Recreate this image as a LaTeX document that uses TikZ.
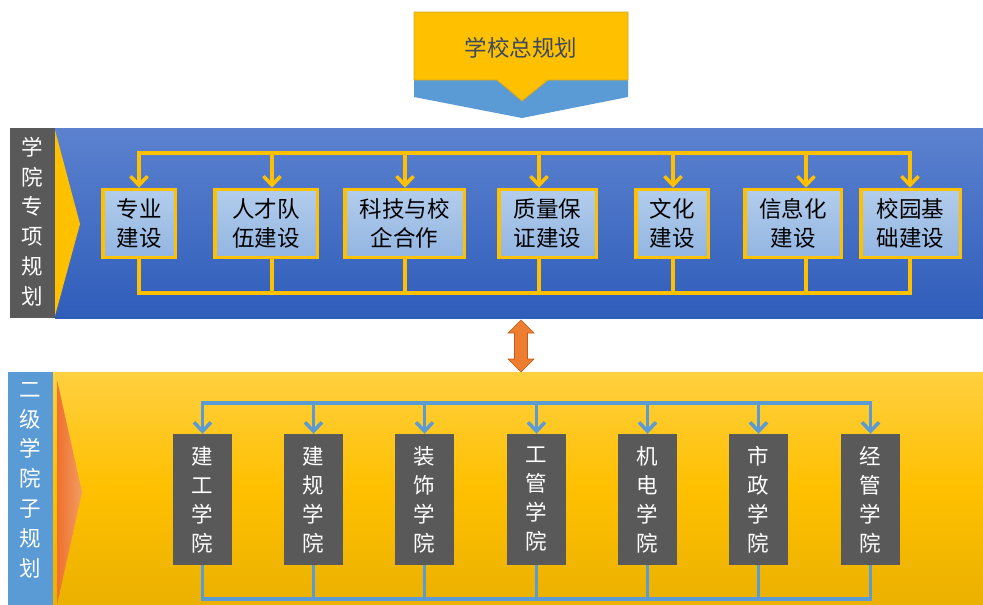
\documentclass[tikz,border=0pt]{standalone}
\usepackage{fontspec}
\setmainfont{Noto Sans CJK SC}
\usetikzlibrary{arrows.meta}
\definecolor{gold}{HTML}{FFC000}
\definecolor{goldedge}{HTML}{D4A520}
\definecolor{skyblue}{HTML}{5B9BD5}
\definecolor{bandtop}{HTML}{5C82CF}
\definecolor{bandbot}{HTML}{2F5DBA}
\definecolor{boxtop}{HTML}{B3CDEC}
\definecolor{boxbot}{HTML}{92B5E1}
\definecolor{darkgrey}{HTML}{595959}
\definecolor{titlegrey}{HTML}{3B4A5E}
\definecolor{orange}{HTML}{ED7D31}
\definecolor{orangeedge}{HTML}{C55A11}
\begin{document}
\begin{tikzpicture}[x=1pt,y=-1pt]
  \tikzstyle{plan}=[draw=gold,line width=3.5pt,top color=boxtop,bottom color=boxbot,inner sep=0pt,minimum height=68pt,align=center,font=\fontsize{22.5}{29}\selectfont]
  \tikzstyle{college}=[fill=darkgrey,minimum width=59pt,minimum height=131pt,inner sep=0pt,text=white,align=center,font=\fontsize{21.5}{29}\selectfont]
  \tikzstyle{label}=[text=white,align=center,font=\fontsize{21.5}{29.8}\selectfont]
  \tikzstyle{barb}=[-{Straight Barb[length=9pt,width=17pt]}]
  \useasboundingbox (0,0) rectangle (983,605);

  % school plan on top
  \fill[skyblue] (414,80) -- (497,80) -- (522,101) -- (548,80) -- (628,80) -- (628,97) -- (522,118) -- (414,97) -- cycle;
  \filldraw[fill=gold,draw=goldedge,line width=0.8pt] (414,12) -- (628,12) -- (628,80) -- (548,80) -- (522,101) -- (497,80) -- (414,80) -- cycle;
  \node[text=titlegrey,font=\fontsize{22.5}{26}\selectfont] (top) at (521,48) {学校总规划};

  % upper band
  \shade[top color=bandtop,bottom color=bandbot] (55,128) rectangle (983,318);
  \fill[darkgrey] (10,128) rectangle (55,318);
  \fill[gold] (55,130) -- (80,224) -- (55,316) -- cycle;
  \node[label] (L-up) at (32,221.5) {学\\院\\专\\项\\规\\划};

  \foreach \name/\x/\w/\ax/\text in {1/139/76/139/专业\\建设, 2/266/106/272/人才队\\伍建设, 3/404.5/123/405/科技与校\\企合作, 4/547.5/101/539/质量保\\证建设, 5/672/76/673/文化\\建设, 6/793/100/806/信息化\\建设, 7/910.5/103/910/校园基\\础建设}
  {
    \node[plan,minimum width=\w pt-3.5pt] (P-\name) at (\x,223.5) {\text};
    \coordinate (T-\name) at (\ax,153);
    \coordinate (B-\name) at (\ax,293);
  }
  \begin{scope}[draw=gold,line width=3.5pt]
    \draw[line cap=rect] (T-1) -- (T-7);
    \draw[line cap=rect] (B-1) -- (B-7);
    \foreach \i in {1,...,7}
    {
      \draw[barb] (T-\i) -- (T-\i |- P-\i.north);
      \draw (T-\i |- P-\i.south) -- (B-\i);
    }
  \end{scope}

  % link between the two bands
  \filldraw[fill=orange,draw=orangeedge,line width=0.6pt] (521,320) -- (534,333) -- (527.5,333) -- (527.5,359) -- (534,359) -- (521,372) -- (508,359) -- (514.5,359) -- (514.5,333) -- (508,333) -- cycle;

  % lower band
  \shade[top color=gold!75!white,bottom color=gold!92!black,middle color=gold] (53,372) rectangle (983,605);
  \fill[skyblue] (8,372) rectangle (53,605);
  \shade[left color=orange!90!red,right color=orange!75!white] (57,380) -- (82,492) -- (57,605) -- cycle;
  \node[label] (L-down) at (30.5,480) {二\\级\\学\\院\\子\\规\\划};

  \foreach \name/\x/\text in {1/202.5/建\\工\\学\\院, 2/313.5/建\\规\\学\\院, 3/424.5/装\\饰\\学\\院, 4/536.5/工\\管\\学\\院, 5/647.5/机\\电\\学\\院, 6/758.5/市\\政\\学\\院, 7/870.5/经\\管\\学\\院}
  {
    \node[college] (C-\name) at (\x,499.5) {\text};
    \coordinate (U-\name) at (\x,403);
    \coordinate (D-\name) at (\x,599);
  }
  \begin{scope}[draw=skyblue,line width=3.5pt]
    \draw[line cap=rect] (U-1) -- (U-7);
    \draw[line cap=rect] (D-1) -- (D-7);
    \foreach \i in {1,...,7}
    {
      \draw[barb] (U-\i) -- (C-\i.north);
      \draw (C-\i.south) -- (D-\i);
    }
  \end{scope}
\end{tikzpicture}
\end{document}
